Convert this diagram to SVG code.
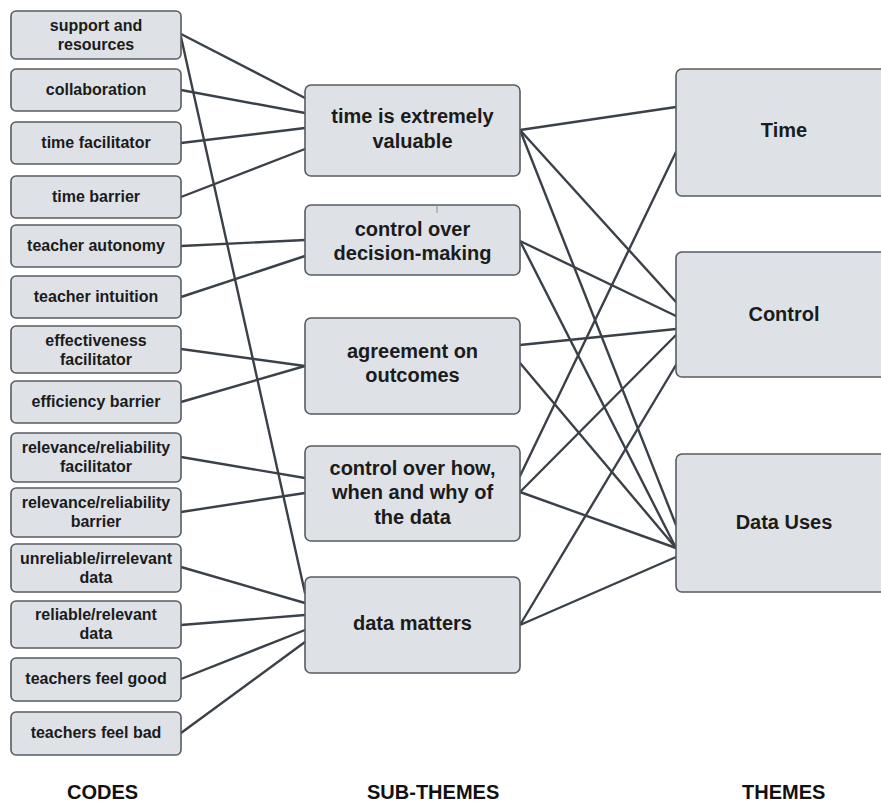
<svg xmlns="http://www.w3.org/2000/svg" width="881" height="802" viewBox="0 0 881 802">
  <style>
    .box { fill: #dee2e7; stroke: #575c63; stroke-width: 1.6; }
    .code { font-family: "Liberation Sans", Arial, sans-serif; font-weight: bold; font-size: 16px; fill: #1b1b1b; text-anchor: middle; }
    .sub { font-family: "Liberation Sans", Arial, sans-serif; font-weight: bold; font-size: 20px; fill: #1b1b1b; text-anchor: middle; }
    .head { font-family: "Liberation Sans", Arial, sans-serif; font-weight: bold; font-size: 20px; fill: #111; }
    .links line { stroke: #3b4149; stroke-width: 2.4; stroke-linecap: round; }
  </style>
  <rect width="881" height="802" fill="#ffffff"/>

  <!-- connectors: codes to sub-themes, sub-themes to themes -->
  <g id="connectors" class="links">
    <line x1="181" y1="34" x2="305" y2="98"/>
    <line x1="181" y1="37" x2="305" y2="593"/>
    <line x1="181" y1="90" x2="305" y2="113"/>
    <line x1="181" y1="143" x2="305" y2="128"/>
    <line x1="181" y1="197" x2="305" y2="149"/>
    <line x1="181" y1="246" x2="305" y2="240"/>
    <line x1="181" y1="297" x2="305" y2="256"/>
    <line x1="181" y1="349" x2="305" y2="366"/>
    <line x1="181" y1="402" x2="305" y2="366"/>
    <line x1="181" y1="457" x2="305" y2="478"/>
    <line x1="181" y1="512" x2="305" y2="493"/>
    <line x1="181" y1="567" x2="305" y2="603"/>
    <line x1="181" y1="625" x2="305" y2="615"/>
    <line x1="181" y1="679" x2="305" y2="630"/>
    <line x1="181" y1="733" x2="305" y2="642"/>

    <line x1="520" y1="130" x2="676" y2="107"/>
    <line x1="520" y1="130" x2="676" y2="302"/>
    <line x1="520" y1="130" x2="676" y2="525"/>
    <line x1="520" y1="241" x2="676" y2="316"/>
    <line x1="520" y1="241" x2="676" y2="548"/>
    <line x1="520" y1="345" x2="676" y2="329"/>
    <line x1="520" y1="363" x2="676" y2="548"/>
    <line x1="520" y1="476" x2="676" y2="152"/>
    <line x1="520" y1="492" x2="676" y2="335"/>
    <line x1="520" y1="492" x2="676" y2="548"/>
    <line x1="520" y1="625" x2="676" y2="365"/>
    <line x1="520" y1="625" x2="676" y2="557"/>
  </g>

  <!-- codes -->
  <g id="code-support">
    <rect class="box" x="11" y="11" width="170" height="48" rx="5"/>
    <text class="code" x="96" y="31">support and</text>
    <text class="code" x="96" y="50">resources</text>
  </g>
  <g id="code-collaboration">
    <rect class="box" x="11" y="69" width="170" height="42" rx="5"/>
    <text class="code" x="96" y="95">collaboration</text>
  </g>
  <g id="code-time-facilitator">
    <rect class="box" x="11" y="122" width="170" height="42" rx="5"/>
    <text class="code" x="96" y="148">time facilitator</text>
  </g>
  <g id="code-time-barrier">
    <rect class="box" x="11" y="176" width="170" height="42" rx="5"/>
    <text class="code" x="96" y="202">time barrier</text>
  </g>
  <g id="code-teacher-autonomy">
    <rect class="box" x="11" y="225" width="170" height="42" rx="5"/>
    <text class="code" x="96" y="251">teacher autonomy</text>
  </g>
  <g id="code-teacher-intuition">
    <rect class="box" x="11" y="276" width="170" height="42" rx="5"/>
    <text class="code" x="96" y="302">teacher intuition</text>
  </g>
  <g id="code-effectiveness">
    <rect class="box" x="11" y="326" width="170" height="47" rx="5"/>
    <text class="code" x="96" y="346">effectiveness</text>
    <text class="code" x="96" y="365">facilitator</text>
  </g>
  <g id="code-efficiency">
    <rect class="box" x="11" y="381" width="170" height="42" rx="5"/>
    <text class="code" x="96" y="407">efficiency barrier</text>
  </g>
  <g id="code-relevance-facilitator">
    <rect class="box" x="11" y="433" width="170" height="49" rx="5"/>
    <text class="code" x="96" y="453">relevance/reliability</text>
    <text class="code" x="96" y="472">facilitator</text>
  </g>
  <g id="code-relevance-barrier">
    <rect class="box" x="11" y="488" width="170" height="49" rx="5"/>
    <text class="code" x="96" y="508">relevance/reliability</text>
    <text class="code" x="96" y="527">barrier</text>
  </g>
  <g id="code-unreliable">
    <rect class="box" x="11" y="544" width="170" height="48" rx="5"/>
    <text class="code" x="96" y="564">unreliable/irrelevant</text>
    <text class="code" x="96" y="583">data</text>
  </g>
  <g id="code-reliable">
    <rect class="box" x="11" y="601" width="170" height="47" rx="5"/>
    <text class="code" x="96" y="620">reliable/relevant</text>
    <text class="code" x="96" y="639">data</text>
  </g>
  <g id="code-feel-good">
    <rect class="box" x="11" y="658" width="170" height="43" rx="5"/>
    <text class="code" x="96" y="684">teachers feel good</text>
  </g>
  <g id="code-feel-bad">
    <rect class="box" x="11" y="712" width="170" height="43" rx="5"/>
    <text class="code" x="96" y="738">teachers feel bad</text>
  </g>

  <!-- sub-themes -->
  <g id="sub-time">
    <rect class="box" x="305" y="85" width="215" height="91" rx="6"/>
    <text class="sub" x="412.5" y="123">time is extremely</text>
    <text class="sub" x="412.5" y="148">valuable</text>
  </g>
  <g id="sub-decision">
    <rect class="box" x="305" y="205" width="215" height="70" rx="6"/>
    <line x1="437" y1="204" x2="437" y2="213" stroke="#8a8f96" stroke-width="1"/>
    <text class="sub" x="412.5" y="236">control over</text>
    <text class="sub" x="412.5" y="260">decision-making</text>
  </g>
  <g id="sub-agreement">
    <rect class="box" x="305" y="318" width="215" height="96" rx="6"/>
    <text class="sub" x="412.5" y="358">agreement on</text>
    <text class="sub" x="412.5" y="382">outcomes</text>
  </g>
  <g id="sub-data-control">
    <rect class="box" x="305" y="446" width="215" height="95" rx="6"/>
    <text class="sub" x="412.5" y="475">control over how,</text>
    <text class="sub" x="412.5" y="499">when and why of</text>
    <text class="sub" x="412.5" y="524">the data</text>
  </g>
  <g id="sub-data-matters">
    <rect class="box" x="305" y="577" width="215" height="96" rx="6"/>
    <text class="sub" x="412.5" y="630">data matters</text>
  </g>

  <!-- themes -->
  <g id="theme-time">
    <rect class="box" x="676" y="69" width="216" height="127" rx="6"/>
    <text class="sub" x="784" y="137">Time</text>
  </g>
  <g id="theme-control">
    <rect class="box" x="676" y="252" width="216" height="125" rx="6"/>
    <text class="sub" x="784" y="321">Control</text>
  </g>
  <g id="theme-data-uses">
    <rect class="box" x="676" y="454" width="216" height="138" rx="6"/>
    <text class="sub" x="784" y="529">Data Uses</text>
  </g>

  <!-- column headings -->
  <g id="headings">
    <text class="head" x="102.5" y="799" text-anchor="middle">CODES</text>
    <text class="head" x="367" y="799">SUB-THEMES</text>
    <text class="head" x="742" y="799">THEMES</text>
  </g>
</svg>
